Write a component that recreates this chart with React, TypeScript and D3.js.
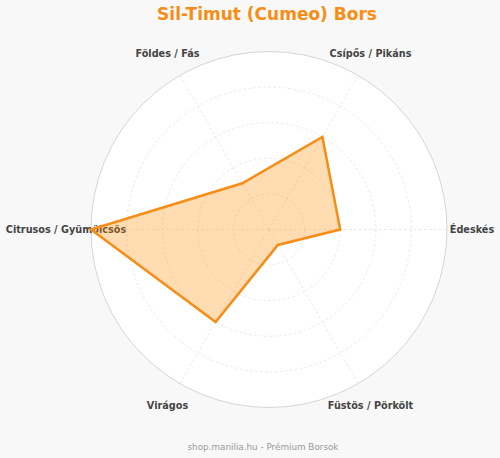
import * as d3 from "d3";

const AXES = [
  "Édeskés",
  "Csípős / Pikáns",
  "Földes / Fás",
  "Citrusos / Gyümölcsös",
  "Virágos",
  "Füstös / Pörkölt",
];
const SCORES = [4, 6, 3, 10, 6, 1];
const RING_TICKS = [2, 4, 6, 8, 10];

const TITLE = "Sil-Timut (Cumeo) Bors";
const FOOTER = "shop.manilia.hu - Prémium Borsok";

const ORANGE = "#f68d16";
const GRID = "#e2e2e2";
const W = 500;
const H = 458;
const CX = 269;
const CY = 229.5;
const R = 178;
const LABEL_R = 203;

export default function App() {
  const r = d3.scaleLinear().domain([0, 10]).range([0, R]);
  // axis i sits i*60deg counter-clockwise from 3 o'clock; d3 angles run clockwise from 12
  const angle = d3
    .scaleLinear()
    .domain([0, AXES.length])
    .range([Math.PI / 2, Math.PI / 2 - 2 * Math.PI]);

  const area = d3
    .lineRadial<number>()
    .angle((_, i) => angle(i))
    .radius((d) => r(d))
    .curve(d3.curveLinearClosed);

  const pt = (i: number, rad: number): [number, number] => {
    const a = angle(i);
    return [rad * Math.sin(a), -rad * Math.cos(a)];
  };

  const font = "'DejaVu Sans', sans-serif";

  return (
    <svg
      width={W}
      height={H}
      style={{ position: "absolute", left: 0, top: 0 }}
      fontFamily={font}
    >
      <rect width={W} height={H} fill="#f8f8f8" />
      <text
        x={267}
        y={20}
        textAnchor="middle"
        fontSize={17}
        fontWeight="bold"
        fill={ORANGE}
      >
        {TITLE}
      </text>

      <g transform={`translate(${CX},${CY})`}>
        <circle r={r(10)} fill="#fff" />
        {RING_TICKS.map((t) => (
          <circle
            key={t}
            r={r(t)}
            fill="none"
            stroke={t === 10 ? "#d6d4d8" : GRID}
            strokeWidth={t === 10 ? 1 : 0.8}
            strokeDasharray={t === 10 ? undefined : "2.5,2.5"}
          />
        ))}
        {AXES.map((_, i) => {
          const [x, y] = pt(i, r(10));
          return (
            <line
              key={i}
              x1={0}
              y1={0}
              x2={x}
              y2={y}
              stroke={GRID}
              strokeWidth={0.8}
              strokeDasharray="2.5,2.5"
            />
          );
        })}
        {AXES.map((name, i) => {
          const [x, y] = pt(i, LABEL_R);
          return (
            <text
              key={name}
              x={x}
              y={y}
              dy="0.35em"
              textAnchor="middle"
              fontSize={9.7}
              fontWeight="bold"
              fill="#444"
            >
              {name}
            </text>
          );
        })}
        <path
          d={area(SCORES) ?? ""}
          fill="#ff8c00"
          fillOpacity={0.3}
          stroke={ORANGE}
          strokeWidth={2.5}
          strokeLinejoin="miter"
        />
      </g>

      <text
        x={263}
        y={449.5}
        textAnchor="middle"
        fontSize={8.8}
        fill="#999"
      >
        {FOOTER}
      </text>
    </svg>
  );
}
